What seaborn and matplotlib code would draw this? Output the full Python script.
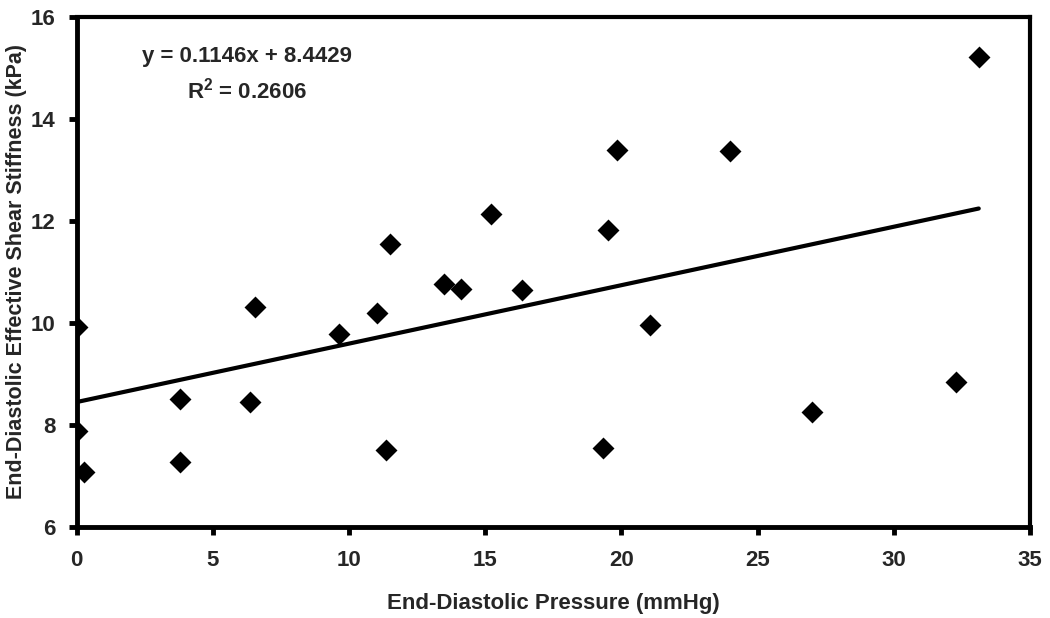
import matplotlib
matplotlib.use("Agg")
import matplotlib.pyplot as plt
import seaborn as sns
import numpy as np
import pandas as pd

# ---- data ----
pressure = [0.0, 0.0, 0.28, 3.8, 3.8, 6.37, 6.56, 9.63, 11.04, 11.35, 11.5,
            13.5, 14.1, 15.2, 16.35, 19.33, 19.5, 19.85, 21.04, 24.0, 27.0,
            32.3, 33.12]
stiffness = [9.92, 7.88, 7.08, 8.51, 7.26, 8.44, 10.31, 9.78, 10.18, 7.50,
             11.55, 10.76, 10.67, 12.13, 10.65, 7.54, 11.82, 13.39, 9.95,
             13.37, 8.25, 8.84, 15.2]
slope = 0.1146
intercept = 8.4429
r_squared = 0.2606
x_ticks = [0, 5, 10, 15, 20, 25, 30, 35]
y_ticks = [6, 8, 10, 12, 14, 16]
x_label = "End-Diastolic Pressure (mmHg)"
y_label = "End-Diastolic Effective Shear Stiffness (kPa)"

sns.set_theme(style="white")
plt.rcParams['font.family'] = ['Liberation Sans', 'DejaVu Sans']
plt.rcParams['font.weight'] = 'bold'
plt.rcParams['mathtext.fontset'] = 'custom'
plt.rcParams['mathtext.rm'] = 'Liberation Sans:bold'
plt.rcParams['mathtext.it'] = 'Liberation Sans:bold'
plt.rcParams['mathtext.bf'] = 'Liberation Sans:bold'

FS = 16

df = pd.DataFrame({"x": pressure, "y": stiffness})
xs = np.array([min(pressure), max(pressure)])
trend = pd.DataFrame({"x": xs, "y": slope * xs + intercept})

fig = plt.figure(figsize=(10.5, 6.18), dpi=100)
ax = fig.add_axes([0.0729, 0.1478, 0.9080, 0.8252])

sns.lineplot(data=trend, x="x", y="y", ax=ax, color="black", linewidth=3.0)
sns.scatterplot(data=df, x="x", y="y", ax=ax, marker="D", s=125,
                color="black", edgecolor="black", linewidth=0, zorder=3)

ax.set_xlim(0, 35)
ax.set_ylim(6, 16)
ax.set_xticks(x_ticks)
ax.set_yticks(y_ticks)
ax.set_xticklabels([str(t) for t in x_ticks], fontsize=FS, fontweight='bold')
ax.set_yticklabels([str(t) for t in y_ticks], fontsize=FS, fontweight='bold')
ax.tick_params(axis='both', direction='out', length=6, width=3.5,
               color='black', bottom=True, left=True)
ax.tick_params(axis='x', pad=11)
ax.tick_params(axis='y', pad=9)

ax.set_xlabel(x_label, fontsize=FS, fontweight='bold', labelpad=16)
ax.set_ylabel(y_label, fontsize=15.5, fontweight='bold', labelpad=3)

for name, sp in ax.spines.items():
    sp.set_visible(True)
    sp.set_color('black')
    sp.set_linewidth(3.5 if name in ('left', 'bottom') else 3.0)
ax.grid(False)

ax.text(0.179, 0.921, f"y = {slope}x + {intercept}", transform=ax.transAxes,
        ha='center', va='center', fontsize=FS, fontweight='bold')
ax.text(0.179, 0.856, f"R$^{{2}}$ = {r_squared}", transform=ax.transAxes,
        ha='center', va='center', fontsize=FS, fontweight='bold')

fig.savefig("out.png", dpi=100, facecolor='white')
